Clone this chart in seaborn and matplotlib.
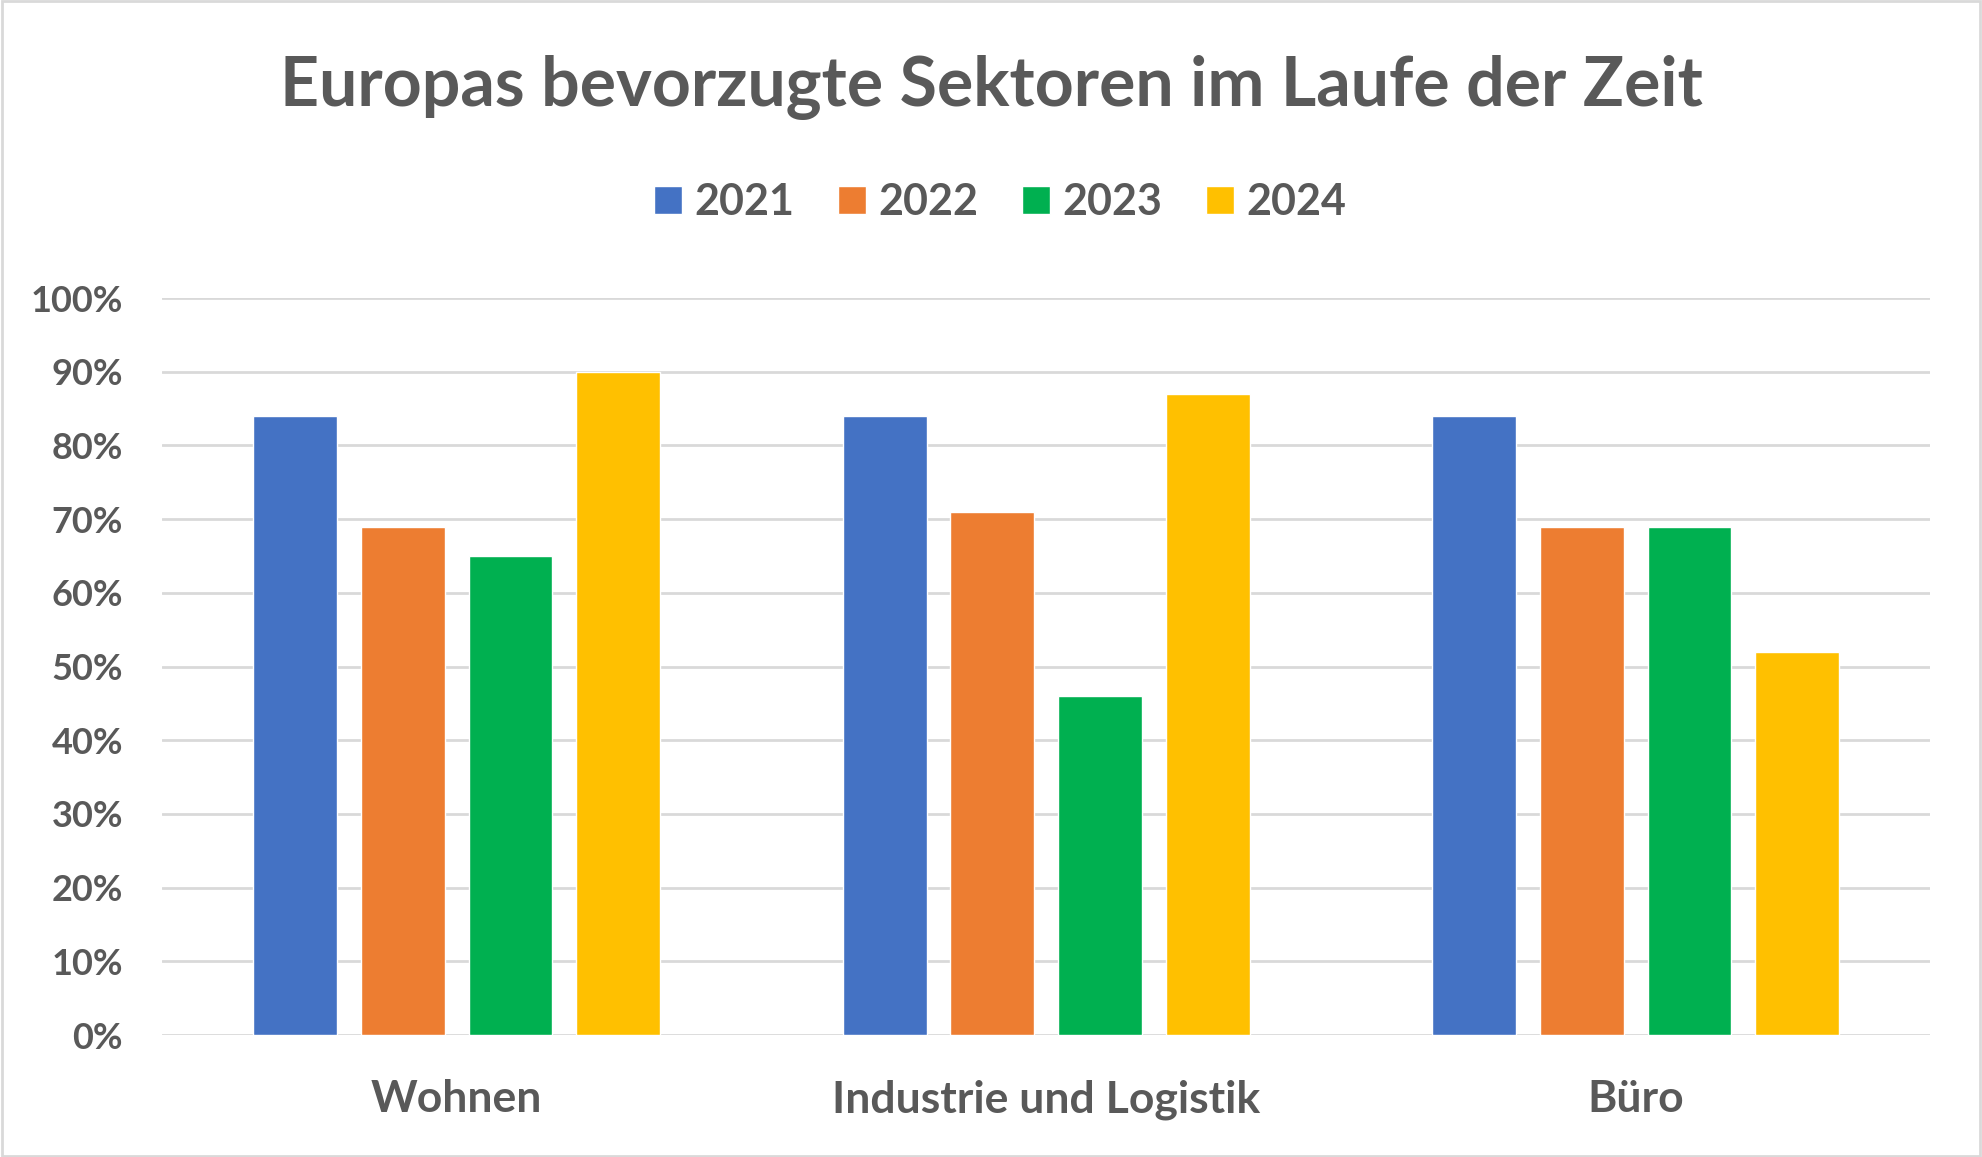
import numpy as np
import pandas as pd
import matplotlib
matplotlib.use('Agg')
import matplotlib.pyplot as plt
import seaborn as sns
from matplotlib.patches import Rectangle

# data (percent)
sectors = ['Wohnen', 'Industrie und Logistik', 'Büro']
years = ['2021', '2022', '2023', '2024']
share_2021 = [84, 84, 84]
share_2022 = [69, 71, 69]
share_2023 = [65, 46, 69]
share_2024 = [90, 87, 52]
colors = ['#4472C4', '#ED7D31', '#00B050', '#FFC000']
text_color = '#595959'

df = pd.DataFrame({
    'sector': sectors * 4,
    'year': np.repeat(years, len(sectors)),
    'value': share_2021 + share_2022 + share_2023 + share_2024,
})

sns.set_theme(style='white')
plt.rcParams['font.family'] = ['Lato', 'DejaVu Sans']
plt.rcParams['font.weight'] = 'bold'

fig = plt.figure(figsize=(19.82, 11.57), dpi=100)
ax = fig.add_axes([0.0817, 0.1054, 0.8923, 0.637])

sns.barplot(data=df, x='sector', y='value', hue='year', palette=colors,
            width=0.73, gap=0.22, saturation=1, ax=ax)

# axes styling
ax.set_ylim(0, 100)
ax.set_yticks(range(0, 101, 10))
ax.set_yticklabels([f'{v}%' for v in range(0, 101, 10)])
ax.set_xlabel('')
ax.set_ylabel('')
ax.set_axisbelow(True)
ax.yaxis.grid(True, color='#d9d9d9', lw=2)
for s in ax.spines.values():
    s.set_visible(False)
ax.tick_params(axis='y', length=0, pad=28, labelsize=26, labelcolor=text_color)
ax.tick_params(axis='x', length=0, pad=32, labelsize=32, labelcolor=text_color)

# legend on top
sns.move_legend(ax, 'center', bbox_to_anchor=(0.5046, 1 - 202 / 1157),
                bbox_transform=fig.transFigure, ncol=4, title=None,
                frameon=False, fontsize=31, handlelength=0.65,
                handleheight=0.65, handletextpad=0.3, columnspacing=1.0)
for t in ax.get_legend().get_texts():
    t.set_color(text_color)

fig.text(0.5, 1 - 87 / 1157, 'Europas bevorzugte Sektoren im Laufe der Zeit',
         ha='center', va='center', fontsize=49, fontweight='bold', color=text_color)

# thin frame around the whole chart
fig.patches.append(Rectangle((0.001, 0.001), 0.998, 0.998, transform=fig.transFigure,
                             fill=False, edgecolor='#d9d9d9', lw=2))

fig.savefig('out.png', dpi=100)
